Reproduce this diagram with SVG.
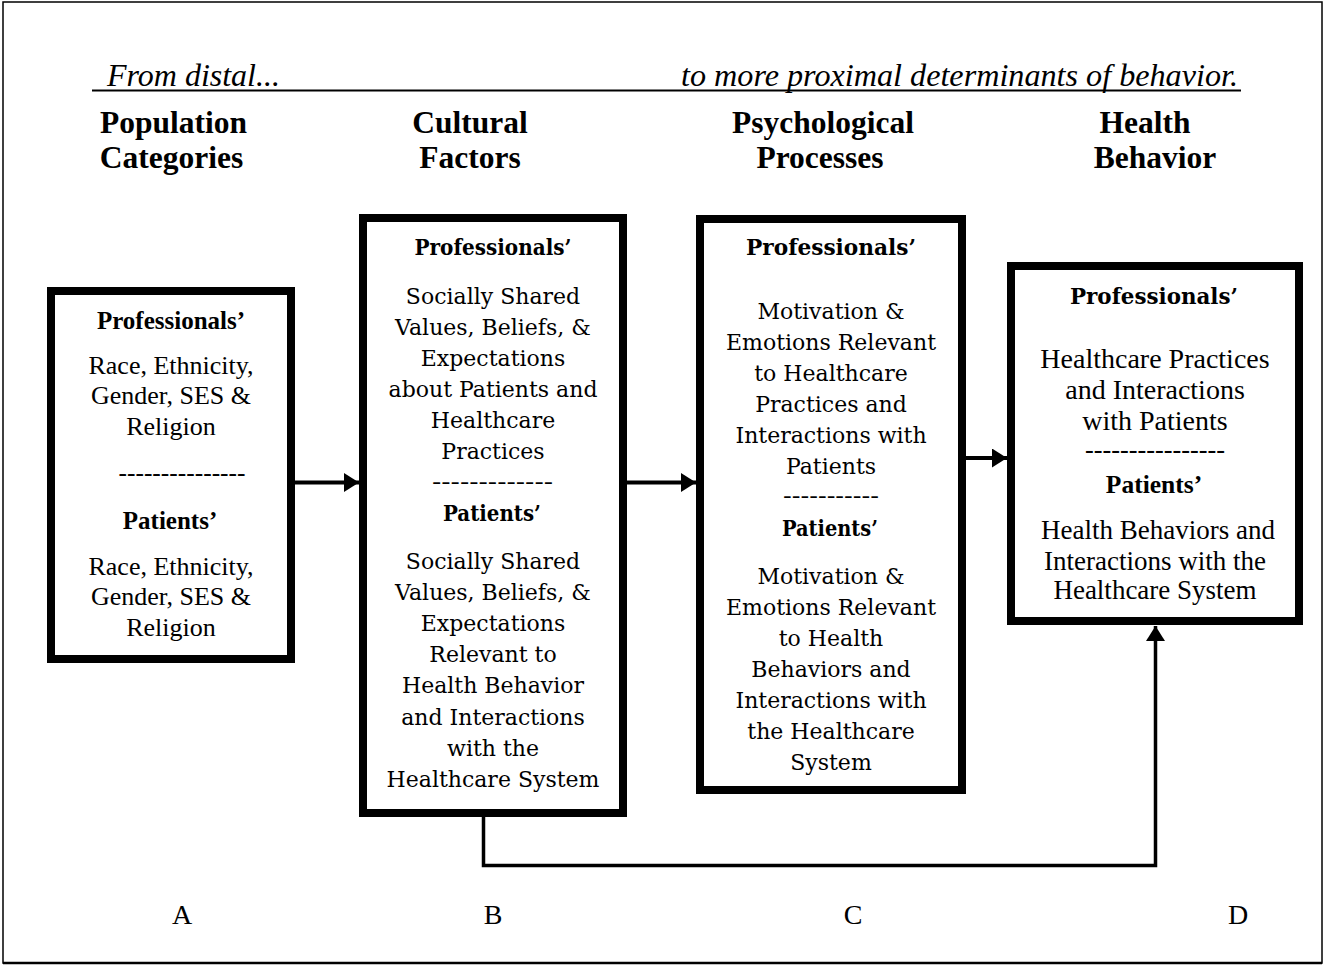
<svg xmlns="http://www.w3.org/2000/svg" width="1324" height="966" viewBox="0 0 1324 966">
<style>
text{fill:#000}
.tr{font-family:"Liberation Serif","Times New Roman",serif;text-anchor:middle}
.cm{font-family:"DejaVu Serif","Liberation Serif",serif;text-anchor:middle;font-size:22px}
.bd{font-weight:bold}
.hd{font-family:"Liberation Serif","Times New Roman",serif;font-weight:bold;font-size:31.5px;text-anchor:middle}
.it{font-family:"Liberation Serif","Times New Roman",serif;font-style:italic;font-size:31px}
.box{fill:#fff;stroke:#000;stroke-width:8}
.conn{fill:none;stroke:#000;stroke-width:4}
.lbl{font-family:"Liberation Serif","Times New Roman",serif;font-size:28px;text-anchor:middle}
</style>
<defs>
<marker id="ah" markerUnits="userSpaceOnUse" markerWidth="16" markerHeight="20" refX="15" refY="9.5" orient="auto">
<path d="M0,0 L15,9.5 L0,19 z" fill="#000"/>
</marker>
</defs>
<rect x="0" y="0" width="1324" height="966" fill="#fff"/>
<rect x="3" y="2" width="1319" height="961" fill="none" stroke="#000" stroke-width="1.5"/>
<line x1="3" y1="963" x2="1322" y2="963" stroke="#000" stroke-width="2.5"/>

<g id="header">
<text class="it" x="107" y="86" textLength="173" lengthAdjust="spacingAndGlyphs">From distal...</text>
<text class="it" x="681" y="86" textLength="557" lengthAdjust="spacingAndGlyphs">to more proximal determinants of behavior.</text>
<line x1="92" y1="90.5" x2="1241" y2="90.5" stroke="#000" stroke-width="2"/>
<text class="hd" x="173.5" y="133">Population</text>
<text class="hd" x="171.5" y="168">Categories</text>
<text class="hd" x="470" y="133">Cultural</text>
<text class="hd" x="470" y="168">Factors</text>
<text class="hd" x="823" y="133">Psychological</text>
<text class="hd" x="820" y="168">Processes</text>
<text class="hd" x="1145" y="133">Health</text>
<text class="hd" x="1155" y="168">Behavior</text>
</g>

<g id="connectors">
<line class="conn" x1="295" y1="482.5" x2="359" y2="482.5" marker-end="url(#ah)"/>
<line class="conn" x1="627" y1="482.5" x2="696" y2="482.5" marker-end="url(#ah)"/>
<line class="conn" x1="966" y1="458" x2="1007" y2="458" marker-end="url(#ah)"/>
<path d="M483.5,817 V865.5 H1155.5 V626" fill="none" stroke="#000" stroke-width="3.5" marker-end="url(#ah)"/>
</g>

<g id="nodeA">
<rect class="box" x="51" y="291" width="240" height="368"/>
<text class="tr bd" x="171" y="329" font-size="25">Professionals’</text>
<text class="tr" x="171" y="374" font-size="26">Race, Ethnicity,</text>
<text class="tr" x="171" y="404" font-size="26">Gender, SES &amp;</text>
<text class="tr" x="171" y="435" font-size="26">Religion</text>
<text class="tr" x="182" y="481" font-size="26" textLength="127" lengthAdjust="spacingAndGlyphs">---------------</text>
<text class="tr bd" x="170" y="529" font-size="25">Patients’</text>
<text class="tr" x="171" y="575" font-size="26">Race, Ethnicity,</text>
<text class="tr" x="171" y="605" font-size="26">Gender, SES &amp;</text>
<text class="tr" x="171" y="636" font-size="26">Religion</text>
</g>

<g id="nodeB">
<rect class="box" x="363" y="218" width="260" height="595"/>
<text class="cm bd" x="493" y="255" font-size="20" textLength="157" lengthAdjust="spacingAndGlyphs">Professionals’</text>
<text class="cm" x="493" y="304">Socially Shared</text>
<text class="cm" x="493" y="335">Values, Beliefs, &amp;</text>
<text class="cm" x="493" y="366">Expectations</text>
<text class="cm" x="493" y="397">about Patients and</text>
<text class="cm" x="493" y="428">Healthcare</text>
<text class="cm" x="493" y="459">Practices</text>
<text class="cm" x="492.5" y="489" textLength="121" lengthAdjust="spacingAndGlyphs">-------------</text>
<text class="cm bd" x="492" y="521" font-size="20" textLength="98" lengthAdjust="spacingAndGlyphs">Patients’</text>
<text class="cm" x="493" y="569">Socially Shared</text>
<text class="cm" x="493" y="600">Values, Beliefs, &amp;</text>
<text class="cm" x="493" y="631">Expectations</text>
<text class="cm" x="493" y="662">Relevant to</text>
<text class="cm" x="493" y="693">Health Behavior</text>
<text class="cm" x="493" y="725">and Interactions</text>
<text class="cm" x="493" y="756">with the</text>
<text class="cm" x="493" y="787">Healthcare System</text>
</g>

<g id="nodeC">
<rect class="box" x="700" y="219" width="262" height="571"/>
<text class="cm bd" x="831" y="255" font-size="20" textLength="170" lengthAdjust="spacingAndGlyphs">Professionals’</text>
<text class="cm" x="831" y="319">Motivation &amp;</text>
<text class="cm" x="831" y="350">Emotions Relevant</text>
<text class="cm" x="831" y="381">to Healthcare</text>
<text class="cm" x="831" y="412">Practices and</text>
<text class="cm" x="831" y="443">Interactions with</text>
<text class="cm" x="831" y="474">Patients</text>
<text class="cm" x="831" y="503" textLength="96" lengthAdjust="spacingAndGlyphs">-----------</text>
<text class="cm bd" x="830" y="536" font-size="20" textLength="96" lengthAdjust="spacingAndGlyphs">Patients’</text>
<text class="cm" x="831" y="584">Motivation &amp;</text>
<text class="cm" x="831" y="615">Emotions Relevant</text>
<text class="cm" x="831" y="646">to Health</text>
<text class="cm" x="831" y="677">Behaviors and</text>
<text class="cm" x="831" y="708">Interactions with</text>
<text class="cm" x="831" y="739">the Healthcare</text>
<text class="cm" x="831" y="770">System</text>
</g>

<g id="nodeD">
<rect class="box" x="1011" y="266" width="288" height="355"/>
<text class="cm bd" x="1154" y="304" font-size="20" textLength="168" lengthAdjust="spacingAndGlyphs">Professionals’</text>
<text class="tr" x="1155" y="368" font-size="28">Healthcare Practices</text>
<text class="tr" x="1155" y="399" font-size="28">and Interactions</text>
<text class="tr" x="1155" y="430" font-size="28">with Patients</text>
<text class="tr" x="1155" y="458" font-size="27" textLength="140" lengthAdjust="spacingAndGlyphs">----------------</text>
<text class="tr bd" x="1154" y="493" font-size="25.5">Patients’</text>
<text class="tr" x="1158" y="539" font-size="27">Health Behaviors and</text>
<text class="tr" x="1155" y="570" font-size="27">Interactions with the</text>
<text class="tr" x="1155" y="599" font-size="27">Healthcare System</text>
</g>

<g id="labels">
<text class="lbl" x="182" y="924">A</text>
<text class="lbl" x="493" y="924">B</text>
<text class="lbl" x="853" y="924">C</text>
<text class="lbl" x="1238" y="924">D</text>
</g>
</svg>
